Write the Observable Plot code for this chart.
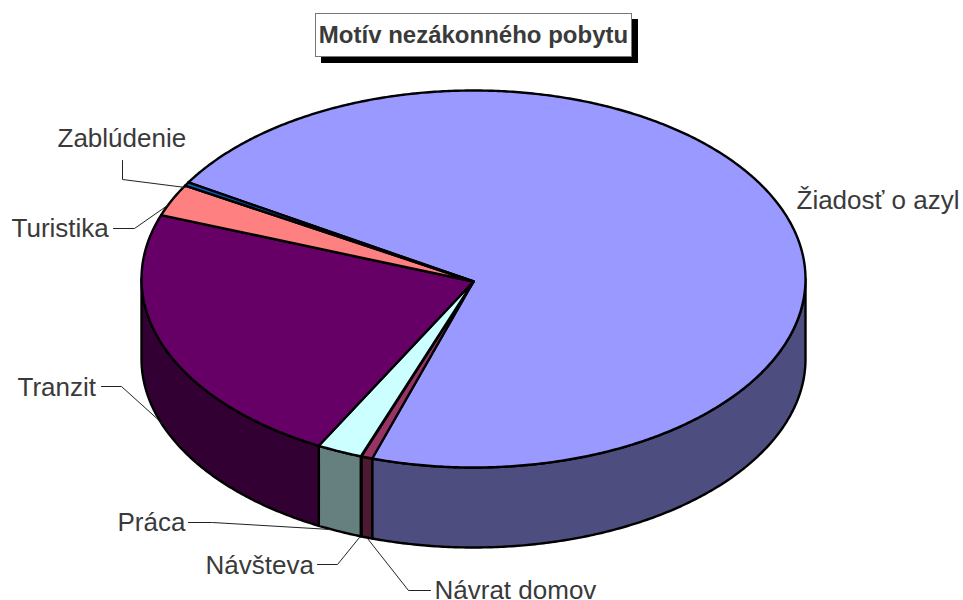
<!DOCTYPE html>
<html lang="sk">
<head>
<meta charset="utf-8">
<script src="https://cdn.jsdelivr.net/npm/d3@7"></script>
<script src="https://cdn.jsdelivr.net/npm/@observablehq/plot@0.6"></script>
<style>
  html, body { margin: 0; padding: 0; background: #fff; }
  #chart { position: relative; width: 963px; height: 600px; overflow: hidden; }
  #title {
    position: absolute; left: 315px; top: 13px; width: 315px; height: 42px; box-sizing: content-box;
    border: 1px solid #777; background: #fff; box-shadow: 6px 6px 0 #000;
    font: bold 24px "Liberation Sans", Arial, sans-serif; color: #3a3a3a;
    display: flex; align-items: center; justify-content: center; white-space: nowrap;
  }
  #chart svg { display: block; }
</style>
</head>
<body>
<div id="chart"><div id="title">Motív nezákonného pobytu</div></div>
<script>
// Data (percent shares, in drawing order, clockwise)
const categories = ["Žiadosť o azyl", "Návrat domov", "Návšteva", "Práca", "Tranzit", "Turistika", "Zablúdenie"];
const shares = [71.4, 0.55, 0.03, 2.2, 22.8, 2.75, 0.3];
const topColors = ["#9999FF", "#993366", "#FFFFCC", "#CCFFFF", "#660066", "#FF8080", "#0066CC"];
const sideColors = ["#4D4D80", "#4D1A33", "#808066", "#668080", "#330033", "#804040", "#003366"];

// Layout (pixels of the 963x600 picture)
const rotation = 300.8;
const box = {left: 141, right: 805, top: 90, bottom: 467, depth: 80 / 188.5, apexY: 281};
const labelPlace = [
  {text: 796, y: 200, leader: []},
  {text: 434, y: 590, leader: [[430, 590], [408, 590], [367, 538]]},
  {text: 205, y: 565, leader: [[317, 564], [337, 564], [359, 537]]},
  {text: 117, y: 522, leader: [[188, 522], [212, 522], [330, 529]]},
  {text: 17, y: 387, leader: [[101, 386], [121, 386], [162, 423]]},
  {text: 11, y: 228, leader: [[113, 228], [134, 228], [167, 205]]},
  {text: 57, y: 138, leader: [[122, 160], [122, 179], [185, 187]]}
];

// Unit-circle geometry of the tilted disc; the x and y scales map it to the page
const rx = (box.right - box.left) / 2, ry = (box.bottom - box.top) / 2;
const cx = box.left + rx, cy = box.top + ry;
const ux = (px) => (px - cx) / rx, uy = (py) => (cy - py) / ry;
const rad = (deg) => deg * Math.PI / 180;
const total = d3.sum(shares);
let start = rotation;
const slices = categories.map((name, i) => {
  const a0 = start, a1 = start + shares[i] / total * 360;
  start = a1;
  return {name, a0, a1, top: topColors[i], side: sideColors[i]};
});
const arcPoints = (a0, a1) => {
  const n = Math.max(2, Math.ceil((a1 - a0) * 2));
  return d3.range(n + 1).map((k) => a0 + (a1 - a0) * k / n);
};
const topFaces = slices.flatMap((s) => [
  {name: s.name, color: s.top, x: 0, y: uy(box.apexY)},
  ...arcPoints(s.a0, s.a1).map((a) => ({name: s.name, color: s.top, x: Math.sin(rad(a)), y: Math.cos(rad(a))}))
]);
// Only the front half of the rim (90° to 270°) is visible
const sideFaces = slices.flatMap((s) =>
  [0, 360].flatMap((turn) => {
    const a0 = Math.max(s.a0, 90 + turn), a1 = Math.min(s.a1, 270 + turn);
    if (a1 <= a0) return [];
    const pts = arcPoints(a0, a1).map((a) => [Math.sin(rad(a)), Math.cos(rad(a))]);
    const id = s.name + turn;
    return [
      ...pts.map(([x, y]) => ({name: id, color: s.side, x, y})),
      ...pts.reverse().map(([x, y]) => ({name: id, color: s.side, x, y: y - box.depth}))
    ];
  })
);
const leaders = labelPlace.flatMap((p, i) =>
  p.leader.map(([x, y]) => ({name: categories[i], x: ux(x), y: uy(y)}))
);
const labels = labelPlace.map((p, i) => ({name: categories[i], x: ux(p.text), y: uy(p.y)}));

const plot = Plot.plot({
  width: 963, height: 600, margin: 0,
  style: {background: "transparent"},
  x: {domain: [-1, 1], range: [box.left, box.right], axis: null},
  y: {domain: [1, -1], range: [box.top, box.bottom], axis: null},
  marks: [
    Plot.line(sideFaces, {x: "x", y: "y", z: "name", fill: "color", stroke: "#000", strokeWidth: 2.4, curve: "linear-closed", strokeLinejoin: "round"}),
    Plot.line(topFaces, {x: "x", y: "y", z: "name", fill: "color", stroke: "#000", strokeWidth: 2.4, curve: "linear-closed", strokeLinejoin: "round"}),
    Plot.line(leaders, {x: "x", y: "y", z: "name", stroke: "#222", strokeWidth: 1}),
    Plot.text(labels, {x: "x", y: "y", text: "name", textAnchor: "start", lineAnchor: "middle", fontSize: 26, fontFamily: "Liberation Sans", fill: "#3a3a3a"})
  ]
});
document.getElementById("chart").appendChild(plot);
</script>
</body>
</html>
